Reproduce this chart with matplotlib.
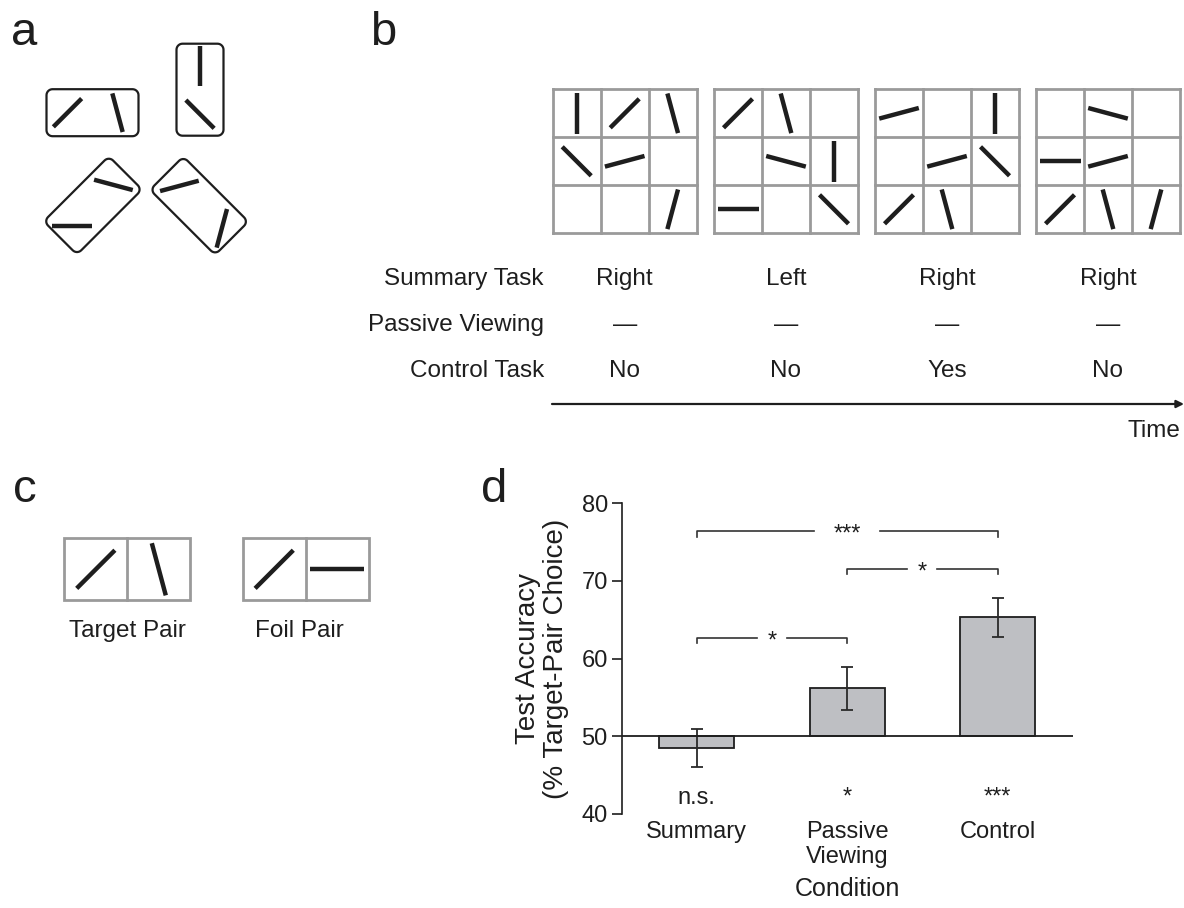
import numpy as np
import matplotlib
matplotlib.use("Agg")
import matplotlib.pyplot as plt
from matplotlib.patches import Polygon, Rectangle

plt.rcParams['font.family'] = ['Liberation Sans', 'DejaVu Sans']

# ---------------- data ----------------
# panel a: pair boxes (centre x, centre y, long-axis angle) and stick orientations
box_centres = [(92.5, 112.7), (200.0, 89.7), (92.9, 205.4), (199.2, 205.7)]
box_angles = [0, 90, 45, -45]
box_sticks = [[45, 105], [135, 90], [0, 165], [15, 75]]
box_stick_offsets = [[-25, 25], [-24.5, 23.7], [-29, 29], [-28, 32]]

# panel b: orientation (deg) of the line in each cell of the 3x3 displays, None = empty
display_angles = [
    [[90, 45, 105], [135, 15, None], [None, None, 75]],
    [[45, 105, None], [None, 165, 90], [0, None, 135]],
    [[15, None, 90], [None, 15, 135], [45, 105, None]],
    [[None, 165, None], [0, 15, None], [45, 105, 75]],
]
row_names = ['Summary Task', 'Passive Viewing', 'Control Task']
summary_resp = ['Right', 'Left', 'Right', 'Right']
passive_resp = ['—', '—', '—', '—']
control_resp = ['No', 'No', 'Yes', 'No']

# panel c
target_pair = [45, 105]
foil_pair = [45, 0]
pair_names = ['Target Pair', 'Foil Pair']

# panel d
conditions = ['Summary', 'Passive\nViewing', 'Control']
accuracy = [48.55, 56.2, 65.3]
sem = [2.45, 2.75, 2.5]
vs_chance = ['n.s.', '*', '***']
comparisons = [(0, 1, 62.7, '*'), (1, 2, 71.6, '*'), (0, 2, 76.4, '***')]
chance = 50

# ---------------- figure ----------------
W, H = 1184, 908
fig = plt.figure(figsize=(W / 100, H / 100), dpi=100)
ax0 = fig.add_axes([0, 0, 1, 1])
ax0.set_xlim(0, W)
ax0.set_ylim(H, 0)
ax0.axis('off')

ink = '#1e1e1e'
grid_col = '#9a9a9a'
fs = 17
fs_b = 17.5


def stick(cx, cy, ang, length, lw=3.2):
    t = np.deg2rad(ang)
    dx, dy = np.cos(t) * length / 2, -np.sin(t) * length / 2
    ax0.plot([cx - dx, cx + dx], [cy - dy, cy + dy], color=ink, lw=lw,
             solid_capstyle='butt')


def rounded_box(cx, cy, ang, w=92, h=47, r=6):
    # rounded rectangle outline in local coords, then rotated
    pts = []
    corners = [(w / 2 - r, h / 2 - r, 0), (-w / 2 + r, h / 2 - r, 90),
               (-w / 2 + r, -h / 2 + r, 180), (w / 2 - r, -h / 2 + r, 270)]
    for ux, vy, a0 in corners:
        for a in np.linspace(a0, a0 + 90, 8):
            pts.append((ux + r * np.cos(np.deg2rad(a)), vy + r * np.sin(np.deg2rad(a))))
    pts = np.array(pts)
    t = np.deg2rad(ang)
    x = cx + pts[:, 0] * np.cos(t) - pts[:, 1] * np.sin(t)
    y = cy - (pts[:, 0] * np.sin(t) + pts[:, 1] * np.cos(t))
    ax0.add_patch(Polygon(np.c_[x, y], closed=True, fill=False, ec=ink, lw=1.6))


# ---- panel a ----
for (cx, cy), a, angs, offs in zip(box_centres, box_angles, box_sticks, box_stick_offsets):
    rounded_box(cx, cy, a)
    t = np.deg2rad(a)
    for s_ang, u in zip(angs, offs):
        stick(cx + u * np.cos(t), cy - u * np.sin(t), s_ang, 40)

# ---- panel b ----
cell = 48
grid_left = [552.7, 714.0, 875.0, 1036.0]
grid_top = 89.3
for gx, disp in zip(grid_left, display_angles):
    for i in range(4):
        ax0.plot([gx, gx + 3 * cell], [grid_top + i * cell] * 2, color=grid_col, lw=2)
        ax0.plot([gx + i * cell] * 2, [grid_top, grid_top + 3 * cell], color=grid_col, lw=2)
    for r, row in enumerate(disp):
        for c, ang in enumerate(row):
            if ang is not None:
                stick(gx + (c + 0.5) * cell, grid_top + (r + 0.5) * cell, ang, 41)

row_y = [279, 325, 371]
for name, yy, resp in zip(row_names, row_y, [summary_resp, passive_resp, control_resp]):
    ax0.text(544, yy, name, ha='right', va='center', fontsize=fs_b, color=ink)
    for gx, txt in zip(grid_left, resp):
        ax0.text(gx + 1.5 * cell, yy, txt, ha='center', va='center', fontsize=fs_b, color=ink)

ax0.annotate('', xy=(1184, 404), xytext=(552, 404),
             arrowprops=dict(arrowstyle='-|>', lw=1.6, color=ink, mutation_scale=11,
                             shrinkA=0, shrinkB=0))
ax0.text(1180, 431, 'Time', ha='right', va='center', fontsize=fs_b, color=ink)

# ---- panel c ----
c_left = [64.3, 242.7]
c_top, c_w, c_h = 538.3, 63, 62
label_x = [127, 299]
for lx, tx, pair, name in zip(c_left, label_x, [target_pair, foil_pair], pair_names):
    ax0.add_patch(Rectangle((lx, c_top), 2 * c_w, c_h, fill=False, ec=grid_col, lw=2))
    ax0.plot([lx + c_w] * 2, [c_top, c_top + c_h], color=grid_col, lw=2)
    for k, ang in enumerate(pair):
        stick(lx + (k + 0.5) * c_w, c_top + c_h / 2, ang, 54)
    ax0.text(tx, 631, name, ha='center', va='center', fontsize=fs_b, color=ink)

# panel letters
for letter, (lx, ly) in zip('abcd', [(11, 45), (370, 45), (13, 502), (481, 502)]):
    ax0.text(lx, ly, letter, fontsize=34, ha='left', va='baseline', color=ink)

# ---- panel d ----
ax = fig.add_axes([621.7 / W, 1 - 814 / H, 451 / W, 310.7 / H])
x = np.arange(len(conditions))
ax.bar(x, [a - chance for a in accuracy], bottom=chance, width=0.5,
       color='#bebfc3', edgecolor=ink, lw=1.3, zorder=2)
ax.errorbar(x, accuracy, yerr=sem, fmt='none', ecolor='#2a2a2a', elinewidth=1.3,
            capsize=4.5, capthick=1.3, zorder=3)
ax.axhline(chance, color=ink, lw=1.3, zorder=4)

for i, j, yb, lab in comparisons:
    gap = 0.1 if len(lab) == 1 else 0.22
    mid = (i + j) / 2
    ax.plot([i, i, mid - gap], [yb - 0.7, yb, yb], color='#333', lw=1.2)
    ax.plot([mid + gap, j, j], [yb, yb, yb - 0.7], color='#333', lw=1.2)
    ax.text(mid, yb - 1.25, lab, ha='center', va='baseline', fontsize=fs, color=ink)

for xi, lab in zip(x, vs_chance):
    ax.text(xi, 41.3, lab, ha='center', va='baseline', fontsize=fs, color=ink)

ax.set_xlim(-0.5, 2.5)
ax.set_ylim(40, 80)
ax.set_yticks([40, 50, 60, 70, 80])
ax.set_xticks(x)
ax.set_xticklabels(conditions, fontsize=fs, color=ink)
ax.tick_params(axis='x', length=0, pad=5)
ax.tick_params(axis='y', length=7, width=1.2, labelsize=fs, colors=ink, pad=3)
for s in ['top', 'right', 'bottom']:
    ax.spines[s].set_visible(False)
ax.spines['left'].set_linewidth(1.2)
ax.spines['left'].set_color(ink)
ax.set_ylabel('Test Accuracy\n(% Target-Pair Choice)', fontsize=20, color=ink, labelpad=9,
              linespacing=1.1)
ax.set_xlabel('Condition', fontsize=18, color=ink, labelpad=6)

fig.savefig('out.png', dpi=100)
